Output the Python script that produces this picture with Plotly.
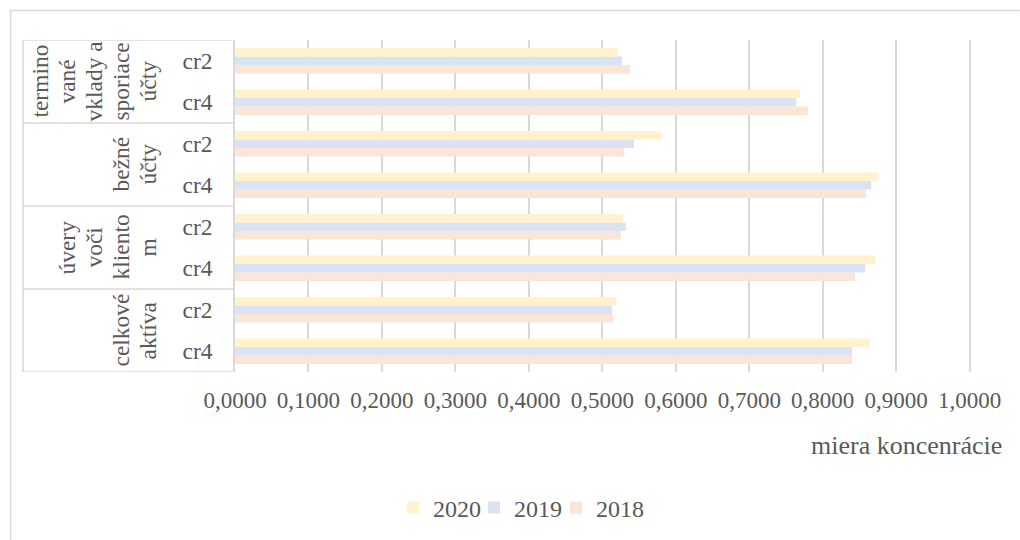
import plotly.graph_objects as go

groups = ["celkové aktíva", "úvery voči klientom", "bežné účty", "termínované vklady a sporiace účty"]
group_label_lines = [["celkové", "aktíva"], ["úvery", "voči", "kliento", "m"],
                     ["bežné", "účty"], ["termino", "vané", "vklady a", "sporiace", "účty"]]
subcats = ["cr4", "cr2"]

# categories bottom to top: (group, subcat)
cat_keys = [f"{g}|{s}" for g in groups for s in subcats]
cat_ticks = [s for g in groups for s in subcats]

v2020 = [0.864, 0.519, 0.872, 0.528, 0.875, 0.580, 0.769, 0.521]
v2019 = [0.840, 0.513, 0.858, 0.532, 0.866, 0.543, 0.764, 0.527]
v2018 = [0.840, 0.515, 0.844, 0.525, 0.859, 0.530, 0.780, 0.538]

series = [("2018", v2018, "#FBE5D6"), ("2019", v2019, "#DAE3F3"), ("2020", v2020, "#FFF2CC")]

x_ticks = [i / 10 for i in range(11)]
x_ticktext = [f"{t:.4f}".replace(".", ",") for t in x_ticks]

FONT = "Times New Roman, Liberation Serif, serif"
GRAY = "#595959"
LINE = "#D9D9D9"

W, H = 1020, 540
# one legend per series so each entry can sit where the original has it
legend_ids = {"2020": "legend", "2019": "legend2", "2018": "legend3"}
legend_left_px = {"legend": 393, "legend2": 474, "legend3": 556}

fig = go.Figure()
for name, vals, col in series:
    fig.add_trace(go.Bar(
        x=vals, y=cat_keys, name=name, orientation="h",
        marker=dict(color=col, line=dict(width=0)),
        legend=legend_ids[name],
    ))

XMAX = 1.01
L, T, B = 235, 40, 372
UNIT = 735.0  # px per 1.0
R = L + UNIT * XMAX

def px_x(p):
    return (p - L) / (R - L)

def px_y(p):
    return (B - p) / (B - T)

def legend_cfg(lid):
    return dict(orientation="h", xref="container", yref="container",
                x=legend_left_px[lid] / W, y=1 - 508 / H, xanchor="left", yanchor="middle",
                font=dict(family=FONT, size=24, color=GRAY), itemwidth=30,
                itemsizing="constant", bgcolor="rgba(0,0,0,0)")

fig.update_layout(
    width=W, height=H,
    margin=dict(l=L, r=W - R, t=T, b=H - B, autoexpand=False),
    paper_bgcolor="white", plot_bgcolor="white",
    barmode="group", bargap=0.39, bargroupgap=0,
    font=dict(family=FONT, size=23, color=GRAY),
    showlegend=True,
    legend=legend_cfg("legend"),
    legend2=legend_cfg("legend2"),
    legend3=legend_cfg("legend3"),
    xaxis=dict(range=[0, XMAX], tickvals=x_ticks, ticktext=x_ticktext,
               showgrid=True, gridcolor=LINE, gridwidth=1.5, zeroline=False,
               showline=False, ticks="", ticklabelstandoff=12,
               tickfont=dict(family=FONT, size=23, color=GRAY), fixedrange=True),
    yaxis=dict(type="category", categoryorder="array", categoryarray=cat_keys,
               tickvals=cat_keys, ticktext=cat_ticks, showgrid=False, zeroline=False,
               showline=True, linecolor=LINE, linewidth=1.5, ticks="",
               ticklabelstandoff=16, tickfont=dict(family=FONT, size=23.5, color=GRAY),
               range=[-0.5, len(cat_keys) - 0.5], fixedrange=True),
)

shapes = []
for k in range(len(groups) + 1):
    yy = k * 2 - 0.5
    shapes.append(dict(type="line", xref="paper", yref="y", x0=px_x(23), x1=0, y0=yy, y1=yy,
                       line=dict(color=LINE, width=1.5)))
for k in range(len(groups)):
    shapes.append(dict(type="line", xref="paper", yref="y", x0=px_x(23), x1=px_x(23),
                       y0=k * 2 - 0.5, y1=k * 2 + 1.5, line=dict(color=LINE, width=1.5)))
shapes.append(dict(type="line", xref="paper", yref="paper", x0=px_x(10), x1=px_x(1020),
                   y0=px_y(10.5), y1=px_y(10.5), line=dict(color=LINE, width=1.5)))
shapes.append(dict(type="line", xref="paper", yref="paper", x0=px_x(10.5), x1=px_x(10.5),
                   y0=px_y(10), y1=px_y(540), line=dict(color=LINE, width=1.5)))
fig.update_layout(shapes=shapes)

annotations = []
LAST_X, PITCH = 147, 27
for k, lines in enumerate(group_label_lines):
    n = len(lines)
    for j, line in enumerate(lines):
        cx = LAST_X - (n - 1 - j) * PITCH
        annotations.append(dict(text=line, xref="paper", yref="y", x=px_x(cx), y=k * 2 + 0.5,
                                xanchor="center", yanchor="middle", textangle=-90, showarrow=False,
                                font=dict(family=FONT, size=23.5, color=GRAY)))
annotations.append(dict(text="miera koncenrácie", xref="paper", yref="paper",
                        x=px_x(1004), y=px_y(445), xanchor="right", yanchor="middle",
                        showarrow=False, font=dict(family=FONT, size=26, color=GRAY)))
fig.update_layout(annotations=annotations)

fig.write_html("out.html", config={"displayModeBar": False},
               post_script="document.body.style.margin='0';document.body.style.padding='0';")
